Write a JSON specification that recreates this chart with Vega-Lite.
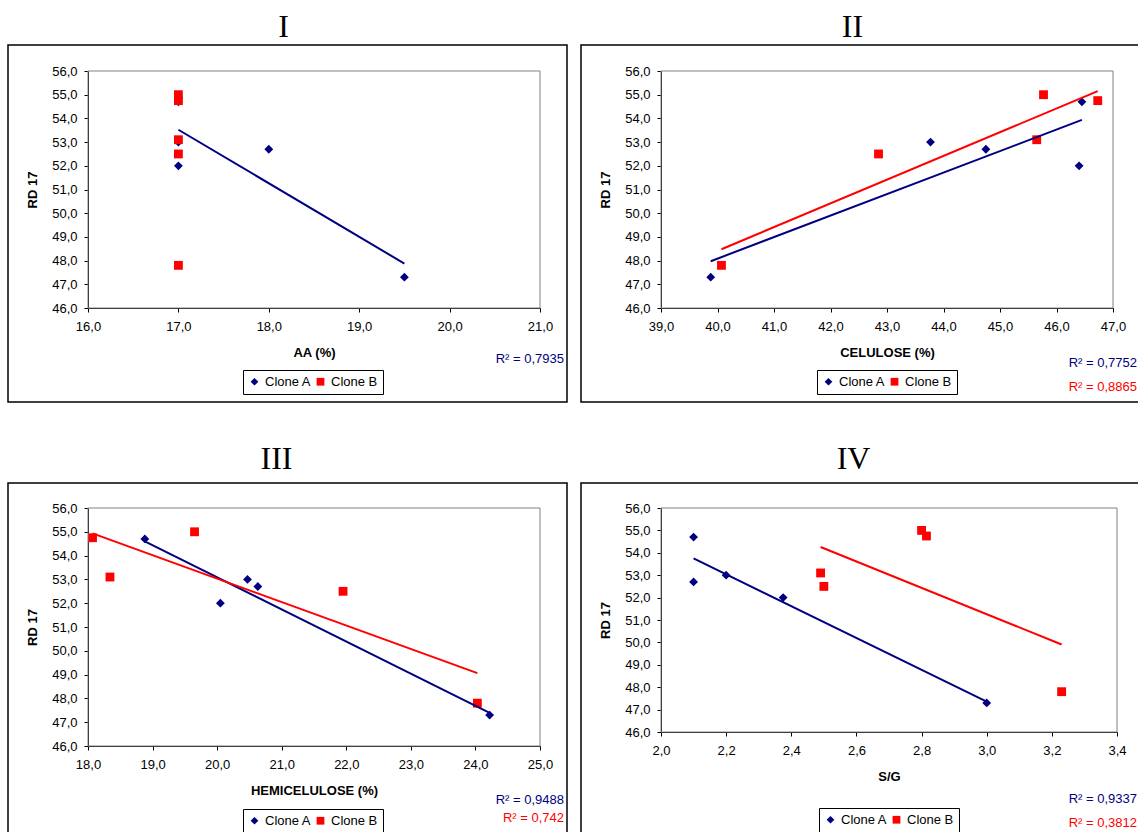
{
  "$schema": "https://vega.github.io/schema/vega-lite/v6.json",
  "background": "white",
  "padding": {"left": 7, "top": 11, "right": 0, "bottom": 0},
  "datasets": {
    "amostras": [
      {"clone": "Clone A", "rd17": 54.7, "aa": 17.0, "cel": 46.45, "hemi": 18.88, "sg": 2.10},
      {"clone": "Clone A", "rd17": 53.0, "aa": 17.0, "cel": 43.77, "hemi": 20.47, "sg": 2.20},
      {"clone": "Clone A", "rd17": 52.7, "aa": 18.0, "cel": 44.75, "hemi": 20.63, "sg": 2.10},
      {"clone": "Clone A", "rd17": 52.0, "aa": 17.0, "cel": 46.40, "hemi": 20.05, "sg": 2.375},
      {"clone": "Clone A", "rd17": 47.3, "aa": 19.5, "cel": 39.88, "hemi": 24.22, "sg": 3.00},
      {"clone": "Clone B", "rd17": 55.0, "aa": 17.0, "cel": 45.77, "hemi": 19.65, "sg": 2.80},
      {"clone": "Clone B", "rd17": 54.75, "aa": 17.0, "cel": 46.73, "hemi": 18.07, "sg": 2.815},
      {"clone": "Clone B", "rd17": 53.1, "aa": 17.0, "cel": 45.65, "hemi": 18.34, "sg": 2.49},
      {"clone": "Clone B", "rd17": 52.5, "aa": 17.0, "cel": 42.85, "hemi": 21.95, "sg": 2.50},
      {"clone": "Clone B", "rd17": 47.8, "aa": 17.0, "cel": 40.07, "hemi": 24.03, "sg": 3.23}
    ]
  },
  "columns": 2,
  "spacing": {"row": 40, "column": 12},
  "resolve": {"scale": {"color": "independent", "shape": "independent"}},
  "concat": [
    {
      "title": {"text": "I", "dx": -4, "offset": 0},
      "resolve": {"scale": {"color": "independent", "shape": "independent"}},
      "vconcat": [{
        "width": 559, "height": 357,
        "title": {"text": "R² = 0,7935", "orient": "bottom", "anchor": "end", "frame": "group", "offset": -49, "dx": -3, "font": "Liberation Sans", "fontSize": 13, "fontWeight": "normal", "color": "#000080"},
        "layer": [
          {
            "data": {"name": "amostras"},
            "mark": {"type": "point", "filled": true, "opacity": 1, "size": 78},
            "encoding": {
              "x": {"field": "aa", "type": "quantitative", "title": "AA (%)",
                "scale": {"domain": [16, 21], "range": [80, 532], "nice": false, "zero": false},
                "axis": {"offset": -94, "values": [16, 17, 18, 19, 20, 21], "labelExpr": "replace(format(datum.value, '.1f'), '.', ',')"}},
              "y": {"field": "rd17", "type": "quantitative", "title": "RD 17",
                "scale": {"domain": [46, 56], "range": [263, 26], "nice": false, "zero": false},
                "axis": {"offset": -80, "values": [46, 47, 48, 49, 50, 51, 52, 53, 54, 55, 56], "labelExpr": "replace(format(datum.value, '.1f'), '.', ',')"}},
              "color": {"field": "clone", "type": "nominal", "scale": {"domain": ["Clone A", "Clone B"], "range": ["#000080", "#FF0000"]},
                "legend": {"orient": "none", "legendX": 235, "legendY": 325}},
              "shape": {"field": "clone", "type": "nominal", "scale": {"domain": ["Clone A", "Clone B"], "range": ["diamond", "square"]}}
            }
          },
          {
            "data": {"values": [{}]},
            "mark": {"type": "rect", "filled": false, "stroke": "#808080", "strokeWidth": 1},
            "encoding": {
              "x": {"datum": 16, "type": "quantitative", "title": "AA (%)",
                "axis": {"offset": -94, "values": [16, 17, 18, 19, 20, 21], "labelExpr": "replace(format(datum.value, '.1f'), '.', ',')"}},
              "x2": {"datum": 21},
              "y": {"datum": 46, "type": "quantitative", "title": "RD 17",
                "axis": {"offset": -80, "values": [46, 47, 48, 49, 50, 51, 52, 53, 54, 55, 56], "labelExpr": "replace(format(datum.value, '.1f'), '.', ',')"}},
              "y2": {"datum": 56}
            }
          },
          {
            "data": {"name": "amostras"},
            "transform": [{"filter": "datum.clone === 'Clone A'"}, {"regression": "rd17", "on": "aa", "groupby": ["clone"]}],
            "mark": {"type": "line", "strokeWidth": 2},
            "encoding": {
              "x": {"field": "aa", "type": "quantitative", "title": "AA (%)",
                "axis": {"offset": -94, "values": [16, 17, 18, 19, 20, 21], "labelExpr": "replace(format(datum.value, '.1f'), '.', ',')"}},
              "y": {"field": "rd17", "type": "quantitative", "title": "RD 17",
                "axis": {"offset": -80, "values": [46, 47, 48, 49, 50, 51, 52, 53, 54, 55, 56], "labelExpr": "replace(format(datum.value, '.1f'), '.', ',')"}},
              "color": {"field": "clone", "type": "nominal", "legend": null}
            }
          }
        ]
      }]
    },
    {
      "title": {"text": "II", "dx": -8, "offset": 0},
      "resolve": {"scale": {"color": "independent", "shape": "independent"}},
      "vconcat": [{
        "width": 559, "height": 357,
        "title": {"text": "R² = 0,7752", "subtitle": "R² = 0,8865", "orient": "bottom", "anchor": "end", "frame": "group", "offset": -45, "dx": -3, "subtitlePadding": 11, "font": "Liberation Sans", "fontSize": 13, "fontWeight": "normal", "color": "#000080", "subtitleFont": "Liberation Sans", "subtitleFontSize": 13, "subtitleColor": "#FF0000"},
        "layer": [
          {
            "data": {"name": "amostras"},
            "mark": {"type": "point", "filled": true, "opacity": 1, "size": 78},
            "encoding": {
              "x": {"field": "cel", "type": "quantitative", "title": "CELULOSE (%)",
                "scale": {"domain": [39, 47], "range": [80, 532], "nice": false, "zero": false},
                "axis": {"offset": -94, "values": [39, 40, 41, 42, 43, 44, 45, 46, 47], "labelExpr": "replace(format(datum.value, '.1f'), '.', ',')"}},
              "y": {"field": "rd17", "type": "quantitative", "title": "RD 17",
                "scale": {"domain": [46, 56], "range": [263, 26], "nice": false, "zero": false},
                "axis": {"offset": -80, "values": [46, 47, 48, 49, 50, 51, 52, 53, 54, 55, 56], "labelExpr": "replace(format(datum.value, '.1f'), '.', ',')"}},
              "color": {"field": "clone", "type": "nominal", "scale": {"domain": ["Clone A", "Clone B"], "range": ["#000080", "#FF0000"]},
                "legend": {"orient": "none", "legendX": 236, "legendY": 325}},
              "shape": {"field": "clone", "type": "nominal", "scale": {"domain": ["Clone A", "Clone B"], "range": ["diamond", "square"]}}
            }
          },
          {
            "data": {"values": [{}]},
            "mark": {"type": "rect", "filled": false, "stroke": "#808080", "strokeWidth": 1},
            "encoding": {
              "x": {"datum": 39, "type": "quantitative", "title": "CELULOSE (%)",
                "axis": {"offset": -94, "values": [39, 40, 41, 42, 43, 44, 45, 46, 47], "labelExpr": "replace(format(datum.value, '.1f'), '.', ',')"}},
              "x2": {"datum": 47},
              "y": {"datum": 46, "type": "quantitative", "title": "RD 17",
                "axis": {"offset": -80, "values": [46, 47, 48, 49, 50, 51, 52, 53, 54, 55, 56], "labelExpr": "replace(format(datum.value, '.1f'), '.', ',')"}},
              "y2": {"datum": 56}
            }
          },
          {
            "data": {"name": "amostras"},
            "transform": [{"regression": "rd17", "on": "cel", "groupby": ["clone"]}],
            "mark": {"type": "line", "strokeWidth": 2},
            "encoding": {
              "x": {"field": "cel", "type": "quantitative", "title": "CELULOSE (%)",
                "axis": {"offset": -94, "values": [39, 40, 41, 42, 43, 44, 45, 46, 47], "labelExpr": "replace(format(datum.value, '.1f'), '.', ',')"}},
              "y": {"field": "rd17", "type": "quantitative", "title": "RD 17",
                "axis": {"offset": -80, "values": [46, 47, 48, 49, 50, 51, 52, 53, 54, 55, 56], "labelExpr": "replace(format(datum.value, '.1f'), '.', ',')"}},
              "color": {"field": "clone", "type": "nominal", "legend": null}
            }
          }
        ]
      }]
    },
    {
      "title": {"text": "III", "dx": -11, "offset": 6},
      "resolve": {"scale": {"color": "independent", "shape": "independent"}},
      "vconcat": [{
        "width": 559, "height": 357,
        "title": {"text": "R² = 0,9488", "subtitle": "R² = 0,742", "orient": "bottom", "anchor": "end", "frame": "group", "offset": -46, "dx": -3, "subtitlePadding": 5, "font": "Liberation Sans", "fontSize": 13, "fontWeight": "normal", "color": "#000080", "subtitleFont": "Liberation Sans", "subtitleFontSize": 13, "subtitleColor": "#FF0000"},
        "layer": [
          {
            "data": {"name": "amostras"},
            "mark": {"type": "point", "filled": true, "opacity": 1, "size": 78},
            "encoding": {
              "x": {"field": "hemi", "type": "quantitative", "title": "HEMICELULOSE (%)",
                "scale": {"domain": [18, 25], "range": [80, 532], "nice": false, "zero": false},
                "axis": {"offset": -94, "values": [18, 19, 20, 21, 22, 23, 24, 25], "labelExpr": "replace(format(datum.value, '.1f'), '.', ',')"}},
              "y": {"field": "rd17", "type": "quantitative", "title": "RD 17",
                "scale": {"domain": [46, 56], "range": [263, 25], "nice": false, "zero": false},
                "axis": {"offset": -80, "values": [46, 47, 48, 49, 50, 51, 52, 53, 54, 55, 56], "labelExpr": "replace(format(datum.value, '.1f'), '.', ',')"}},
              "color": {"field": "clone", "type": "nominal", "scale": {"domain": ["Clone A", "Clone B"], "range": ["#000080", "#FF0000"]},
                "legend": {"orient": "none", "legendX": 235, "legendY": 326}},
              "shape": {"field": "clone", "type": "nominal", "scale": {"domain": ["Clone A", "Clone B"], "range": ["diamond", "square"]}}
            }
          },
          {
            "data": {"values": [{}]},
            "mark": {"type": "rect", "filled": false, "stroke": "#808080", "strokeWidth": 1},
            "encoding": {
              "x": {"datum": 18, "type": "quantitative", "title": "HEMICELULOSE (%)",
                "axis": {"offset": -94, "values": [18, 19, 20, 21, 22, 23, 24, 25], "labelExpr": "replace(format(datum.value, '.1f'), '.', ',')"}},
              "x2": {"datum": 25},
              "y": {"datum": 46, "type": "quantitative", "title": "RD 17",
                "axis": {"offset": -80, "values": [46, 47, 48, 49, 50, 51, 52, 53, 54, 55, 56], "labelExpr": "replace(format(datum.value, '.1f'), '.', ',')"}},
              "y2": {"datum": 56}
            }
          },
          {
            "data": {"name": "amostras"},
            "transform": [{"regression": "rd17", "on": "hemi", "groupby": ["clone"]}],
            "mark": {"type": "line", "strokeWidth": 2},
            "encoding": {
              "x": {"field": "hemi", "type": "quantitative", "title": "HEMICELULOSE (%)",
                "axis": {"offset": -94, "values": [18, 19, 20, 21, 22, 23, 24, 25], "labelExpr": "replace(format(datum.value, '.1f'), '.', ',')"}},
              "y": {"field": "rd17", "type": "quantitative", "title": "RD 17",
                "axis": {"offset": -80, "values": [46, 47, 48, 49, 50, 51, 52, 53, 54, 55, 56], "labelExpr": "replace(format(datum.value, '.1f'), '.', ',')"}},
              "color": {"field": "clone", "type": "nominal", "legend": null}
            }
          }
        ]
      }]
    },
    {
      "title": {"text": "IV", "dx": -7, "offset": 6},
      "resolve": {"scale": {"color": "independent", "shape": "independent"}},
      "vconcat": [{
        "width": 559, "height": 357,
        "title": {"text": "R² = 0,9337", "subtitle": "R² = 0,3812", "orient": "bottom", "anchor": "end", "frame": "group", "offset": -47, "dx": -3, "subtitlePadding": 11, "font": "Liberation Sans", "fontSize": 13, "fontWeight": "normal", "color": "#000080", "subtitleFont": "Liberation Sans", "subtitleFontSize": 13, "subtitleColor": "#FF0000"},
        "layer": [
          {
            "data": {"name": "amostras"},
            "mark": {"type": "point", "filled": true, "opacity": 1, "size": 78},
            "encoding": {
              "x": {"field": "sg", "type": "quantitative", "title": "S/G",
                "scale": {"domain": [2.0, 3.4], "range": [80, 536], "nice": false, "zero": false},
                "axis": {"offset": -108, "values": [2.0, 2.2, 2.4, 2.6, 2.8, 3.0, 3.2, 3.4], "labelExpr": "replace(format(datum.value, '.1f'), '.', ',')"}},
              "y": {"field": "rd17", "type": "quantitative", "title": "RD 17",
                "scale": {"domain": [46, 56], "range": [249, 25], "nice": false, "zero": false},
                "axis": {"offset": -80, "values": [46, 47, 48, 49, 50, 51, 52, 53, 54, 55, 56], "labelExpr": "replace(format(datum.value, '.1f'), '.', ',')"}},
              "color": {"field": "clone", "type": "nominal", "scale": {"domain": ["Clone A", "Clone B"], "range": ["#000080", "#FF0000"]},
                "legend": {"orient": "none", "legendX": 238, "legendY": 325}},
              "shape": {"field": "clone", "type": "nominal", "scale": {"domain": ["Clone A", "Clone B"], "range": ["diamond", "square"]}}
            }
          },
          {
            "data": {"values": [{}]},
            "mark": {"type": "rect", "filled": false, "stroke": "#808080", "strokeWidth": 1},
            "encoding": {
              "x": {"datum": 2.0, "type": "quantitative", "title": "S/G",
                "axis": {"offset": -108, "values": [2.0, 2.2, 2.4, 2.6, 2.8, 3.0, 3.2, 3.4], "labelExpr": "replace(format(datum.value, '.1f'), '.', ',')"}},
              "x2": {"datum": 3.4},
              "y": {"datum": 46, "type": "quantitative", "title": "RD 17",
                "axis": {"offset": -80, "values": [46, 47, 48, 49, 50, 51, 52, 53, 54, 55, 56], "labelExpr": "replace(format(datum.value, '.1f'), '.', ',')"}},
              "y2": {"datum": 56}
            }
          },
          {
            "data": {"name": "amostras"},
            "transform": [{"regression": "rd17", "on": "sg", "groupby": ["clone"]}],
            "mark": {"type": "line", "strokeWidth": 2},
            "encoding": {
              "x": {"field": "sg", "type": "quantitative", "title": "S/G",
                "axis": {"offset": -108, "values": [2.0, 2.2, 2.4, 2.6, 2.8, 3.0, 3.2, 3.4], "labelExpr": "replace(format(datum.value, '.1f'), '.', ',')"}},
              "y": {"field": "rd17", "type": "quantitative", "title": "RD 17",
                "axis": {"offset": -80, "values": [46, 47, 48, 49, 50, 51, 52, 53, 54, 55, 56], "labelExpr": "replace(format(datum.value, '.1f'), '.', ',')"}},
              "color": {"field": "clone", "type": "nominal", "legend": null}
            }
          }
        ]
      }]
    }
  ],
  "config": {
    "view": {"stroke": "#000000", "strokeWidth": 1.5},
    "title": {"font": "Liberation Serif", "fontSize": 32, "fontWeight": "normal", "color": "#000000", "anchor": "middle"},
    "axis": {
      "grid": false, "zindex": 1, "labelOverlap": false,
      "domainColor": "#000000", "domainWidth": 1, "tickColor": "#000000", "tickWidth": 1, "tickSize": 4,
      "labelColor": "#000000", "labelFont": "Liberation Sans", "labelFontSize": 13, "labelFlush": false,
      "titleColor": "#000000", "titleFont": "Liberation Sans", "titleFontSize": 13, "titleFontWeight": "bold"
    },
    "axisX": {"labelPadding": 8, "titlePadding": 13},
    "axisY": {"labelPadding": 7, "titlePadding": 12},
    "legend": {
      "title": null, "direction": "horizontal", "columns": 2,
      "strokeColor": "#000000", "strokeWidth": 1, "padding": 5, "columnPadding": 2,
      "labelFont": "Liberation Sans", "labelFontSize": 13, "labelColor": "#000000", "labelOffset": 4,
      "symbolSize": 60, "symbolStrokeWidth": 0
    }
  }
}
